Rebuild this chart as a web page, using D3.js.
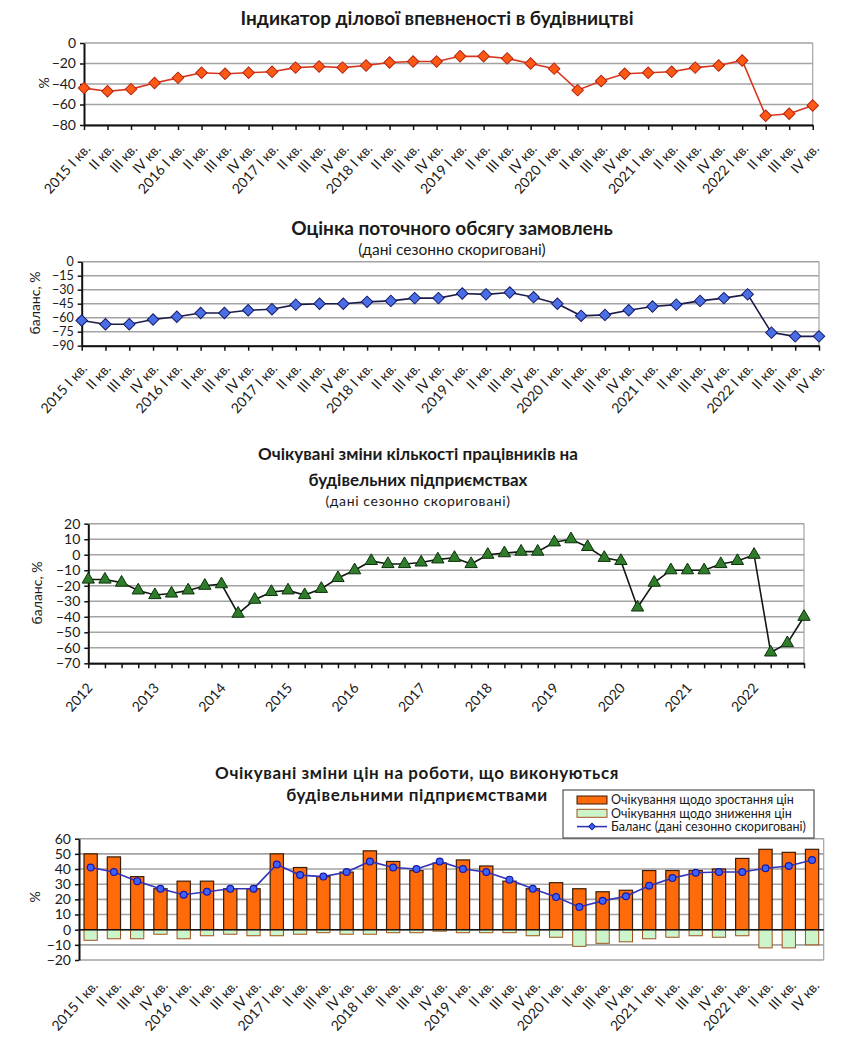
<!DOCTYPE html>
<html>
<head>
<meta charset="utf-8">
<script src="https://cdn.jsdelivr.net/npm/d3@7/dist/d3.min.js"></script>
<style>
  body { margin: 0; background: #fff; }
  text { font-family: Lato, "Open Sans", sans-serif; fill: #1a1a1a; }
</style>
</head>
<body>
<svg id="chart" width="849" height="1049"></svg>
<script>
// categories
const YEARS_15_22 = [2015, 2016, 2017, 2018, 2019, 2020, 2021, 2022];
const YEARS_12_22 = [2012, 2013, 2014, 2015, 2016, 2017, 2018, 2019, 2020, 2021, 2022];
const Q_NAMES = ["I кв.", "II кв.", "III кв.", "IV кв."];

// Індикатор ділової впевненості в будівництві, %
const CONFIDENCE = [-44, -47, -45, -39, -34, -29, -30, -29, -28, -24, -23, -24, -22, -19, -18, -18,
    -13, -13, -15, -20, -25, -46, -37, -30, -29, -28, -24, -22, -17, -71, -69, -61];
// Оцінка поточного обсягу замовлень, баланс %
const ORDERS = [-63, -67, -67, -62, -59, -55, -55, -52, -51, -46, -45, -45, -43, -42, -39, -39,
    -34, -35, -33, -38, -45, -58, -57, -52, -48, -46, -42, -39, -35, -76, -80, -80];
// Очікувані зміни кількості працівників, баланс % (2012 I - 2022 IV)
const EMPLOYMENT = [-16, -16, -18, -23, -26, -25, -23, -20, -19, -38, -29, -24, -23, -26, -22, -15,
    -10, -4, -6, -6, -5, -3, -2, -6, 0, 1, 2, 2, 8, 10, 5, -2,
    -4, -34, -18, -10, -10, -10, -6, -4, 0, -63, -57, -40];
// Очікувані зміни цін, %
const PRICE_UP = [50, 48, 35, 27, 32, 32, 27, 27, 50, 41, 35, 38, 52, 45, 39, 44,
    46, 42, 32, 27, 31, 27, 25, 26, 39, 39, 39, 40, 47, 53, 51, 53];
const PRICE_DOWN = [-7, -6, -6, -3, -6, -4, -3, -4, -4, -3, -2, -3, -3, -2, -2, -1,
    -2, -2, -2, -4, -5, -11, -9, -8, -6, -5, -4, -5, -4, -12, -12, -10];
const PRICE_BALANCE = [41, 38, 32, 27, 23, 25, 27, 27, 43, 36, 35, 38, 45, 41, 40, 45,
    40, 38, 33, 27, 21.5, 15, 19, 22, 29, 34, 37.5, 38, 38, 40.5, 42, 46];

const LEGEND_LABELS = ["Очікування щодо зростання цін", "Очікування щодо зниження цін", "Баланс (дані сезонно скориговані)"];

const quarterLabels = [];
YEARS_15_22.forEach(y => Q_NAMES.forEach((q, i) => quarterLabels.push(i === 0 ? y + " " + q : q)));
const empLabels = [];
YEARS_12_22.forEach(y => Q_NAMES.forEach((q, i) => empLabels.push(i === 0 ? String(y) : "")));

const svg = d3.select("#chart");
const GRID = "#a3a3a3";

function titles(lines, cx) {
    lines.forEach(l => {
        svg.append("text")
            .attr("x", cx).attr("y", l.y)
            .attr("text-anchor", "middle")
            .attr("font-size", l.size)
            .attr("font-weight", l.bold ? "bold" : "normal")
            .attr("letter-spacing", l.ls || 0)
            .text(l.text);
    });
}

function yLabel(text, x, y) {
    svg.append("text")
        .attr("transform", `translate(${x},${y}) rotate(-90)`)
        .attr("text-anchor", "middle")
        .attr("font-size", 14)
        .text(text);
}

function gridAndYAxis(g, y, ticks, w, fs) {
    g.append("g").selectAll("line").data(ticks).join("line")
        .attr("x1", 0).attr("x2", w)
        .attr("y1", d => y(d)).attr("y2", d => y(d))
        .attr("stroke", GRID).attr("stroke-width", 1.6);
    g.append("line").attr("x1", w).attr("x2", w)
        .attr("y1", y(ticks[0])).attr("y2", y(ticks[ticks.length - 1]))
        .attr("stroke", GRID).attr("stroke-width", 1.2);
    const ax = g.append("g").call(d3.axisLeft(y).tickValues(ticks).tickSize(4).tickPadding(4).tickSizeOuter(0));
    ax.select(".domain").attr("stroke", "#111").attr("stroke-width", 2);
    ax.selectAll(".tick line").attr("stroke", "#111").attr("stroke-width", 1.5);
    ax.selectAll("text").attr("font-size", fs || 14).attr("font-family", "Lato, sans-serif").attr("fill", "#1a1a1a");
}

function rotateLabels(sel, dx, dy) {
    sel.selectAll(".tick text")
        .attr("text-anchor", "end")
        .attr("x", 0).attr("y", 0).attr("dy", "0.35em")
        .attr("transform", `translate(${dx},${dy}) rotate(-48)`)
        .attr("font-size", 14).attr("font-family", "Lato, sans-serif").attr("fill", "#1a1a1a");
}

function lineChart(cfg) {
    const w = cfg.right - cfg.left, h = cfg.bottom - cfg.top;
    const g = svg.append("g").attr("transform", `translate(${cfg.left},${cfg.top})`);
    const idx = d3.range(cfg.values.length);
    const x = d3.scalePoint().domain(idx).range([0, w]);
    const y = d3.scaleLinear().domain(cfg.domain).range([h, 0]);
    gridAndYAxis(g, y, cfg.ticks, w, cfg.tickFont);

    const xa = g.append("g").attr("transform", `translate(0,${h})`)
        .call(d3.axisBottom(x).tickSize(5).tickSizeOuter(0).tickFormat(i => cfg.labels[i]));
    xa.select(".domain").attr("stroke", "#111").attr("stroke-width", 2);
    xa.selectAll(".tick line").attr("stroke", "#111").attr("stroke-width", 1.5);
    rotateLabels(xa, cfg.ldx, cfg.ldy);

    const line = d3.line().x((d, i) => x(i)).y(d => y(d));
    g.append("path").datum(cfg.values)
        .attr("d", line).attr("fill", "none")
        .attr("stroke", cfg.lineColor).attr("stroke-width", 1.6);
    g.append("g").selectAll("path").data(cfg.values).join("path")
        .attr("d", d3.symbol().type(cfg.symbol).size(cfg.symbolSize))
        .attr("transform", (d, i) => `translate(${x(i)},${y(d)})` + (cfg.symbol === d3.symbolSquare ? " rotate(45)" : ""))
        .attr("fill", cfg.fill).attr("stroke", cfg.stroke).attr("stroke-width", 1);
}

// ---- chart 1
titles([{ text: "Індикатор ділової впевненості в будівництві", y: 25, size: 19, bold: true }], 437);
yLabel("%", 49, 83);
lineChart({
    left: 84, right: 812.7, top: 43, bottom: 125,
    values: CONFIDENCE, labels: quarterLabels, ldx: 3, ldy: 21,
    domain: [-80, 0], ticks: [0, -20, -40, -60, -80],
    lineColor: "#d8361f", symbol: d3.symbolSquare, symbolSize: 66,
    fill: "#ff5a14", stroke: "#b52412"
});

// ---- chart 2
titles([
    { text: "Оцінка поточного обсягу замовлень", y: 235, size: 19, bold: true },
    { text: "(дані сезонно скориговані)", y: 255, size: 15.5, bold: false }
], 452);
yLabel("баланс, %", 40, 303);
lineChart({
    left: 81.7, right: 819, top: 261.7, bottom: 345.7,
    values: ORDERS, labels: quarterLabels, ldx: 2, ldy: 20, tickFont: 12.5,
    domain: [-90, 0], ticks: [0, -15, -30, -45, -60, -75, -90],
    lineColor: "#1c1c4a", symbol: d3.symbolSquare, symbolSize: 66,
    fill: "#4a6ee6", stroke: "#141a66"
});

// ---- chart 3
titles([
    { text: "Очікувані зміни кількості працівників на", y: 460, size: 17, bold: true },
    { text: "будівельних підприємствах", y: 486, size: 17, bold: true },
    { text: "(дані сезонно скориговані)", y: 506, size: 14, bold: false, ls: 0.6 }
], 418);
yLabel("баланс, %", 42, 593);
lineChart({
    left: 88.3, right: 804, top: 523.7, bottom: 663.3,
    values: EMPLOYMENT, labels: empLabels, ldx: 1, ldy: 22,
    domain: [-70, 20], ticks: [20, 10, 0, -10, -20, -30, -40, -50, -60, -70],
    lineColor: "#111a11", symbol: d3.symbolTriangle, symbolSize: 66,
    fill: "#2f7d2a", stroke: "#0c300c"
});

// ---- chart 4
(function () {
    const left = 79, right = 823.7, top = 838.7, bottom = 960;
    const w = right - left, h = bottom - top;
    titles([
        { text: "Очікувані зміни цін на роботи, що виконуються", y: 779, size: 17, bold: true, ls: 0.6 },
        { text: "будівельними підприємствами", y: 801, size: 17, bold: true, ls: 0.6 }
    ], 417);
    yLabel("%", 40, 897);
    const g = svg.append("g").attr("transform", `translate(${left},${top})`);
    const idx = d3.range(PRICE_UP.length);
    const x = d3.scaleBand().domain(idx).range([0, w]).paddingInner(0.43).paddingOuter(0.215);
    const y = d3.scaleLinear().domain([-20, 60]).range([h, 0]);
    const ticks = [60, 50, 40, 30, 20, 10, 0, -10, -20];
    gridAndYAxis(g, y, ticks, w);

    g.append("g").selectAll("rect").data(PRICE_UP).join("rect")
        .attr("x", (d, i) => x(i)).attr("width", x.bandwidth())
        .attr("y", d => y(d)).attr("height", d => y(0) - y(d))
        .attr("fill", "#ff6a0a").attr("stroke", "#3b1d08").attr("stroke-width", 1.2);
    g.append("g").selectAll("rect").data(PRICE_DOWN).join("rect")
        .attr("x", (d, i) => x(i)).attr("width", x.bandwidth())
        .attr("y", y(0)).attr("height", d => y(d) - y(0))
        .attr("fill", "#ccf5cc").attr("stroke", "#a0521c").attr("stroke-width", 1);

    g.append("line").attr("x1", 0).attr("x2", w).attr("y1", y(0)).attr("y2", y(0))
        .attr("stroke", "#111").attr("stroke-width", 1.6);

    const cx = i => x(i) + x.bandwidth() / 2;
    g.append("path").datum(PRICE_BALANCE)
        .attr("d", d3.line().x((d, i) => cx(i)).y(d => y(d)))
        .attr("fill", "none").attr("stroke", "#3434b8").attr("stroke-width", 1.6);
    g.append("g").selectAll("circle").data(PRICE_BALANCE).join("circle")
        .attr("cx", (d, i) => cx(i)).attr("cy", d => y(d)).attr("r", 3.4)
        .attr("fill", "#3d63ff").attr("stroke", "#1a1aa0").attr("stroke-width", 1.2);

    const xa = g.append("g").attr("transform", `translate(0,${h})`)
        .call(d3.axisBottom(x).tickSize(0).tickFormat(i => quarterLabels[i]));
    xa.select(".domain").remove();
    rotateLabels(xa, 4.5, 23);

    // legend
    const lg = svg.append("g").attr("transform", "translate(563,790)");
    lg.append("rect").attr("width", 251).attr("height", 48)
        .attr("fill", "#fff").attr("stroke", "#333").attr("stroke-width", 1);
    const rows = [10, 23.3, 36.6];
    lg.append("rect").attr("x", 14).attr("y", rows[0] - 4).attr("width", 30).attr("height", 8)
        .attr("fill", "#ff6a0a").attr("stroke", "#3b1d08");
    lg.append("rect").attr("x", 14).attr("y", rows[1] - 4).attr("width", 30).attr("height", 8)
        .attr("fill", "#ccf5cc").attr("stroke", "#a0521c");
    lg.append("line").attr("x1", 14).attr("x2", 44).attr("y1", rows[2]).attr("y2", rows[2])
        .attr("stroke", "#3434b8").attr("stroke-width", 1.6);
    lg.append("path").attr("d", d3.symbol().type(d3.symbolSquare).size(22))
        .attr("transform", `translate(29,${rows[2]}) rotate(45)`)
        .attr("fill", "#3d63ff").attr("stroke", "#1a1aa0");
    lg.selectAll("text.lt").data(LEGEND_LABELS).join("text")
        .attr("class", "lt")
        .attr("x", 48).attr("y", (d, i) => rows[i]).attr("dy", "0.35em")
        .attr("font-size", 12.5).text(d => d);
})();
</script>
</body>
</html>
